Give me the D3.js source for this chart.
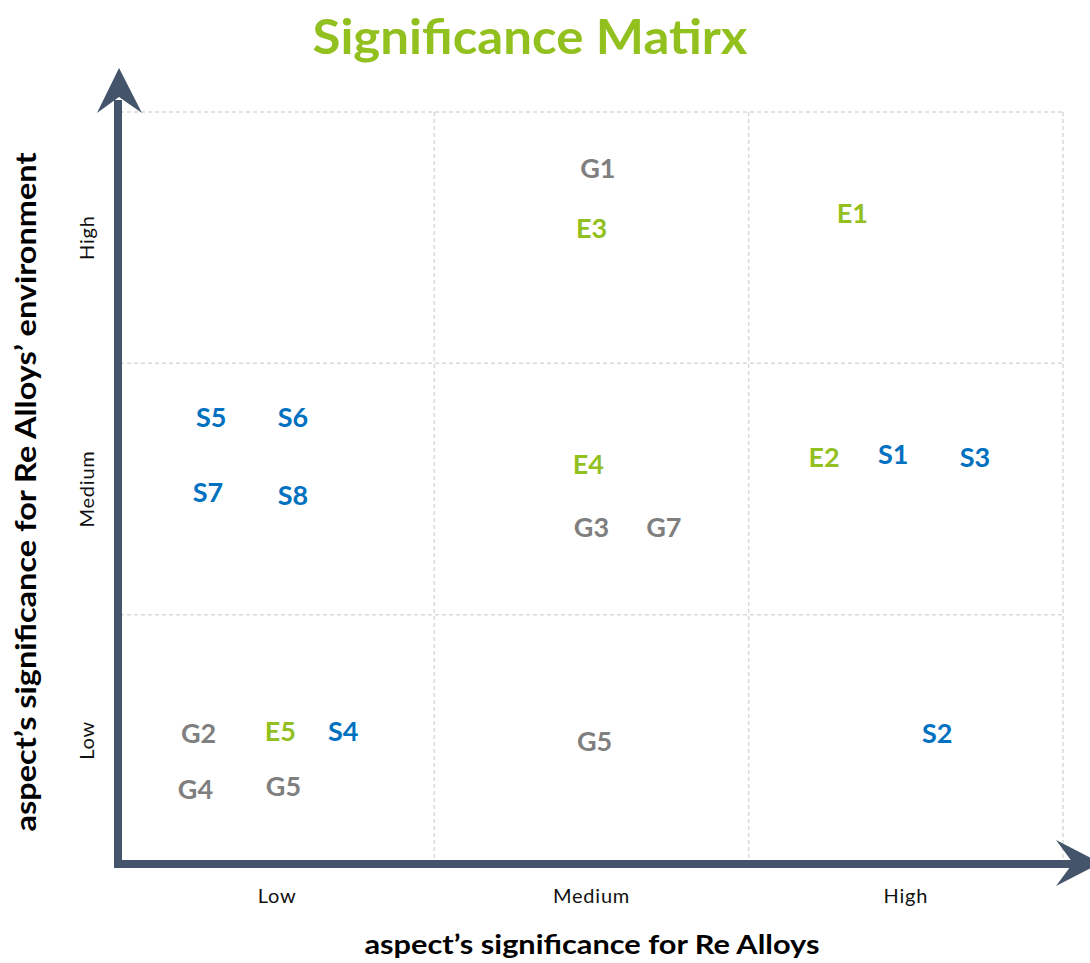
<!DOCTYPE html>
<html>
<head>
<meta charset="utf-8">
<script src="https://cdn.jsdelivr.net/npm/d3@7/dist/d3.min.js"></script>
<style>
  html, body { margin: 0; padding: 0; background: #fff; }
  svg { display: block; font-family: Lato, "Open Sans", sans-serif; }
</style>
</head>
<body>
<svg id="chart" width="1090" height="963"></svg>
<script>
// ── DATA ───────────────────────────────────────────────────────────────────
const levels   = ['Low', 'Medium', 'High'];
const labels   = ['G1', 'E3', 'E1', 'S5', 'S6', 'S7', 'S8', 'E4', 'G3', 'G7',
                  'E2', 'S1', 'S3', 'G2', 'E5', 'S4', 'G5', 'S2', 'G4', 'G5'];
// position along each axis, 0..3 (one unit per level cell)
const xValues  = [1.52, 1.50, 2.33, 0.29, 0.55, 0.28, 0.55, 1.49, 1.50, 1.73,
                  2.24, 2.46, 2.72, 0.25, 0.51, 0.71, 1.51, 2.60, 0.24, 0.52];
const yValues  = [2.78, 2.54, 2.60, 1.79, 1.79, 1.49, 1.48, 1.60, 1.35, 1.35,
                  1.63, 1.64, 1.63, 0.53, 0.54, 0.54, 0.50, 0.53, 0.31, 0.32];

const GROUP_COLORS = { G: '#7f7f7f', E: '#92c01f', S: '#0070c0' };
const AXIS_COLOR   = '#44546a';

// ── LAYOUT ─────────────────────────────────────────────────────────────────
const plot = { left: 120, right: 1063, top: 112, bottom: 866 };
const svg  = d3.select('#chart');

const x  = d3.scaleLinear().domain([0, 3]).range([plot.left, plot.right]);
const y  = d3.scaleLinear().domain([0, 3]).range([plot.bottom, plot.top]);
const xb = d3.scaleBand().domain(levels).range([plot.left, plot.right]);
const yb = d3.scaleBand().domain(levels.slice().reverse()).range([plot.top, plot.bottom]);

// ── GRID ───────────────────────────────────────────────────────────────────
const grid = svg.append('g')
  .attr('stroke', '#d9d9d9')
  .attr('stroke-width', 1.5)
  .attr('stroke-dasharray', '4,3')
  .attr('fill', 'none');

grid.selectAll('line.v').data([1, 2, 3]).enter().append('line')
  .attr('x1', d => x(d)).attr('x2', d => x(d))
  .attr('y1', plot.top).attr('y2', plot.bottom);

grid.selectAll('line.h').data([1, 2, 3]).enter().append('line')
  .attr('x1', plot.left).attr('x2', plot.right)
  .attr('y1', d => y(d)).attr('y2', d => y(d));

// ── AXES (arrows) ──────────────────────────────────────────────────────────
const axisX = 118, axisY = 864;
const axes  = svg.append('g');

axes.append('line')
  .attr('x1', axisX).attr('x2', axisX)
  .attr('y1', axisY + 4).attr('y2', 100)
  .attr('stroke', AXIS_COLOR).attr('stroke-width', 8);
axes.append('path')
  .attr('d', `M${axisX + 1},68 L${axisX + 24},113 L${axisX + 1},97 L${axisX - 21},113 Z`)
  .attr('fill', AXIS_COLOR);

axes.append('line')
  .attr('x1', axisX - 4).attr('x2', 1075)
  .attr('y1', axisY).attr('y2', axisY)
  .attr('stroke', AXIS_COLOR).attr('stroke-width', 8);
axes.append('path')
  .attr('d', `M1101,${axisY - 1} L1056,${axisY - 24} L1073,${axisY - 1} L1056,${axisY + 22} Z`)
  .attr('fill', AXIS_COLOR);

// ── TICK LABELS ────────────────────────────────────────────────────────────
svg.append('g').selectAll('text').data(levels).enter().append('text')
  .attr('x', d => xb(d) + xb.bandwidth() / 2)
  .attr('y', 903)
  .attr('text-anchor', 'middle')
  .attr('font-size', 20)
  .attr('letter-spacing', 0.8)
  .attr('fill', '#111')
  .text(d => d);

svg.append('g').selectAll('text').data(levels).enter().append('text')
  .attr('transform', d => `translate(94,${yb(d) + yb.bandwidth() / 2}) rotate(-90)`)
  .attr('text-anchor', 'middle')
  .attr('font-size', 20)
  .attr('letter-spacing', 0.8)
  .attr('fill', '#111')
  .text(d => d);

// ── POINT LABELS ───────────────────────────────────────────────────────────
svg.append('g').selectAll('text').data(labels).enter().append('text')
  .attr('x', (d, i) => x(xValues[i]))
  .attr('y', (d, i) => y(yValues[i]))
  .attr('text-anchor', 'middle')
  .attr('dominant-baseline', 'central')
  .attr('font-size', 27)
  .attr('font-weight', 'bold')
  .attr('fill', d => GROUP_COLORS[d.charAt(0)])
  .text(d => d);

// ── TITLES ─────────────────────────────────────────────────────────────────
svg.append('text')
  .attr('x', 530).attr('y', 54)
  .attr('text-anchor', 'middle')
  .attr('font-size', 47)
  .attr('font-weight', 'bold')
  .attr('fill', '#92c01f')
  .attr('textLength', 435)
  .attr('lengthAdjust', 'spacingAndGlyphs')
  .text('Significance Matirx');

svg.append('text')
  .attr('x', 592).attr('y', 954)
  .attr('text-anchor', 'middle')
  .attr('font-size', 26)
  .attr('font-weight', 'bold')
  .attr('fill', '#000')
  .attr('textLength', 455)
  .attr('lengthAdjust', 'spacingAndGlyphs')
  .text('aspect’s significance for Re Alloys');

svg.append('text')
  .attr('transform', 'translate(36,492) rotate(-90)')
  .attr('text-anchor', 'middle')
  .attr('font-size', 28)
  .attr('font-weight', 'bold')
  .attr('fill', '#000')
  .attr('textLength', 679)
  .attr('lengthAdjust', 'spacingAndGlyphs')
  .text('aspect’s significance for Re Alloys’ environment');
</script>
</body>
</html>
